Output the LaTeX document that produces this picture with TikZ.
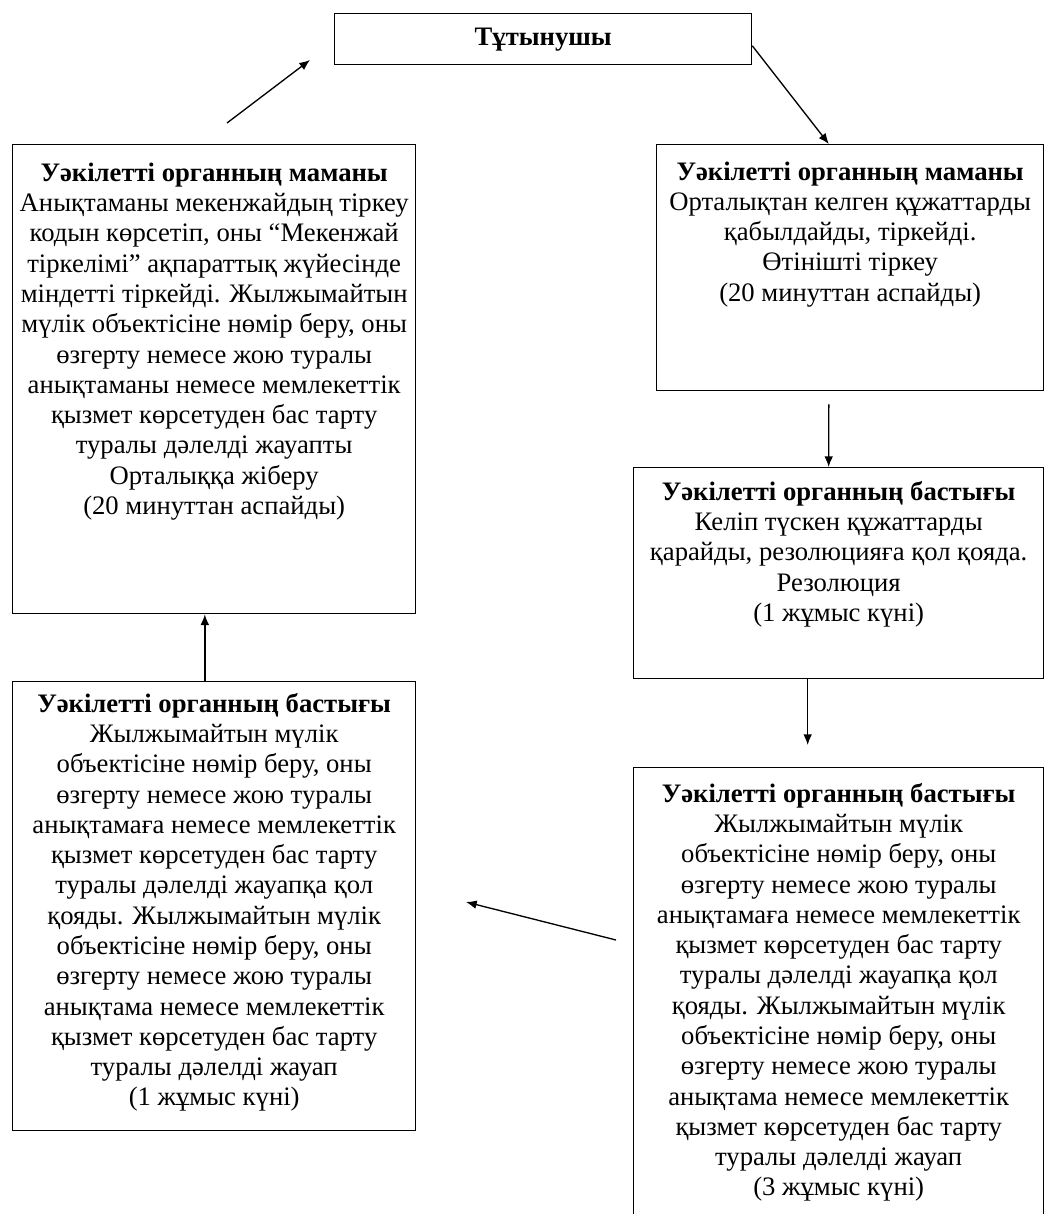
\documentclass[tikz,border=0pt]{standalone}
\usepackage{fontspec}
\setmainfont{Liberation Serif}
\usetikzlibrary{shapes,arrows,arrows.meta,positioning,calc}

\tikzset{
    box/.style={draw, line width=1pt, rectangle, inner sep=0pt, anchor=north west},
    txt/.style={align=center, inner sep=0pt, font=\fontsize{20}{22.7}\selectfont},
    arr/.style={-{Latex[length=8pt,width=6.5pt]}, line width=1pt}
}

\begin{document}
\begin{tikzpicture}[x=0.75pt, y=-0.75pt]
    \useasboundingbox (0,0) rectangle (1048,1214);

    % Boxes
    \node[box, minimum width=312.75pt, minimum height=38.25pt] (user) at (334,13) {};
    \node[box, minimum width=302.25pt, minimum height=351.75pt] (spec2) at (12,144) {};
    \node[box, minimum width=290.25pt, minimum height=184.5pt] (spec1) at (656,144) {};
    \node[box, minimum width=307.5pt, minimum height=158.25pt] (head1) at (633,467) {};
    \node[box, minimum width=302.25pt, minimum height=336.75pt] (head3) at (12,681) {};
    \node[box, minimum width=307.5pt, minimum height=352.5pt] (head2) at (633,767) {};

    % Texts
    \node[txt] (userT) at (user.center) {\textbf{Тұтынушы}};
    \node[txt, below=14pt of spec2.north] (spec2T) {\textbf{Уәкілетті органның маманы}\\
        Анықтаманы мекенжайдың тіркеу\\
        кодын көрсетіп, оны “Мекенжай\\
        тіркелімі” ақпараттық жүйесінде\\
        міндетті тіркейді. Жылжымайтын\\
        мүлік объектісіне нөмір беру, оны\\
        өзгерту немесе жою туралы\\
        анықтаманы немесе мемлекеттік\\
        қызмет көрсетуден бас тарту\\
        туралы дәлелді жауапты\\
        Орталыққа жіберу\\
        (20 минуттан аспайды)};
    \node[txt, below=13pt of spec1.north] (spec1T) {\textbf{Уәкілетті органның маманы}\\
        Орталықтан келген құжаттарды\\
        қабылдайды, тіркейді.\\
        Өтінішті тіркеу\\
        (20 минуттан аспайды)};
    \node[txt, below=10.5pt of head1.north] (head1T) {\textbf{Уәкілетті органның бастығы}\\
        Келіп түскен құжаттарды\\
        қарайды, резолюцияға қол қояда.\\
        Резолюция\\
        (1 жұмыс күні)};
    \node[txt, below=9pt of head3.north] (head3T) {\textbf{Уәкілетті органның бастығы}\\
        Жылжымайтын мүлік\\
        объектісіне нөмір беру, оны\\
        өзгерту немесе жою туралы\\
        анықтамаға немесе мемлекеттік\\
        қызмет көрсетуден бас тарту\\
        туралы дәлелді жауапқа қол\\
        қояды. Жылжымайтын мүлік\\
        объектісіне нөмір беру, оны\\
        өзгерту немесе жою туралы\\
        анықтама немесе мемлекеттік\\
        қызмет көрсетуден бас тарту\\
        туралы дәлелді жауап\\
        (1 жұмыс күні)};
    \node[txt, below=12pt of head2.north] (head2T) {\textbf{Уәкілетті органның бастығы}\\
        Жылжымайтын мүлік\\
        объектісіне нөмір беру, оны\\
        өзгерту немесе жою туралы\\
        анықтамаға немесе мемлекеттік\\
        қызмет көрсетуден бас тарту\\
        туралы дәлелді жауапқа қол\\
        қояды. Жылжымайтын мүлік\\
        объектісіне нөмір беру, оны\\
        өзгерту немесе жою туралы\\
        анықтама немесе мемлекеттік\\
        қызмет көрсетуден бас тарту\\
        туралы дәлелді жауап\\
        (3 жұмыс күні)};

    % Arrows
    \coordinate (backS) at (227,123);
    \coordinate (backE) at (310,60);
    \coordinate (sideS) at (616,940);
    \coordinate (sideE) at (466,902);
    \draw[arr] (backS) -- (backE);
    \draw[arr] ([yshift=-5pt]user.east) -- ([xshift=-16pt]spec1.north);
    \draw[arr] ([xshift=-16pt, yshift=-9.75pt]spec1.south) -- ([xshift=-7.5pt]head1.north);
    \draw[arr] ([xshift=-23.25pt]head1.south) -- ([xshift=-23.25pt, yshift=16.5pt]head2.north);
    \draw[arr] (sideS) -- (sideE);
    \draw[arr] ([xshift=-7pt]head3.north) -- ([xshift=-7pt]spec2.south);
\end{tikzpicture}
\end{document}
